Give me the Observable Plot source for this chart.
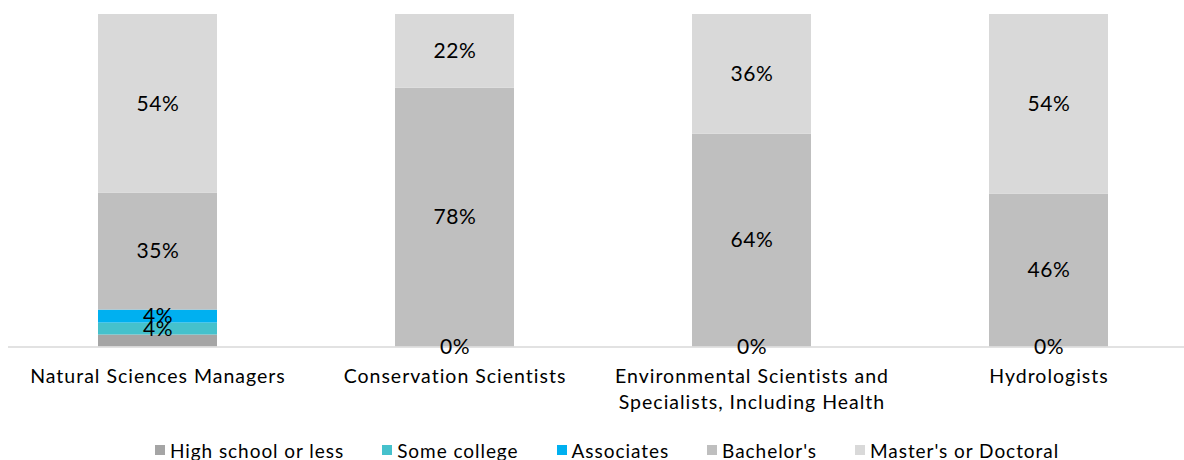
<!DOCTYPE html>
<html>
<head>
<meta charset="utf-8">
<script src="https://cdn.jsdelivr.net/npm/d3@7"></script>
<script src="https://cdn.jsdelivr.net/npm/@observablehq/plot@0.6"></script>
<style>
  html, body { margin: 0; padding: 0; background: #fff; }
  #chart { width: 1184px; font-family: "Lato", sans-serif; }
  #chart svg { display: block; }
  .legend { display: flex; justify-content: center; gap: 38px; padding-left: 30px; height: 28px; align-items: center; font-size: 19px; color: #000; font-family: "Lato", sans-serif; letter-spacing: 0.95px; margin-top: 4px; }
  .legend .item { display: flex; align-items: center; gap: 5px; }
  .legend .sw { width: 10px; height: 10px; display: inline-block; }
</style>
</head>
<body>
<div id="chart"></div>
<script>
const categories = [
  "Natural Sciences Managers",
  "Conservation Scientists",
  "Environmental Scientists and Specialists, Including Health",
  "Hydrologists"
];
const tickLabels = [
  "Natural Sciences Managers",
  "Conservation Scientists",
  "Environmental Scientists and\nSpecialists, Including Health",
  "Hydrologists"
];
const seriesNames = ["High school or less", "Some college", "Associates", "Bachelor's", "Master's or Doctoral"];
const seriesColors = ["#a5a5a5", "#45c1cc", "#00b0f0", "#bfbfbf", "#d9d9d9"];

const highSchool  = [3.6, 0, 0, 0];
const someCollege = [3.6, 0, 0, 0];
const associates  = [3.9, 0, 0, 0];
const bachelors   = [35.1, 77.8, 64.0, 46.0];
const masters     = [53.8, 22.2, 36.0, 54.0];

const seriesValues = [highSchool, someCollege, associates, bachelors, masters];

const data = [];
categories.forEach((c, i) => {
  seriesNames.forEach((s, j) => {
    data.push({category: c, series: s, value: seriesValues[j][i]});
  });
});

// Labels: non-zero segments are labelled; the high-school series is only labelled where it is 0%
function labelText(d) {
  if (d.series === seriesNames[0]) return d.value === 0 ? "0%" : "";
  return d.value > 0 ? Math.round(d.value) + "%" : "";
}

const chart = Plot.plot({
  width: 1184,
  height: 432,
  marginTop: 14,
  marginBottom: 85.5,
  marginLeft: 8,
  marginRight: 0,
  style: {fontFamily: "Lato, sans-serif", color: "#000", background: "#fff", overflow: "visible"},
  x: {domain: categories, range: [8.5, 1196.5], paddingInner: 0.6, paddingOuter: 0.3, label: null},
  y: {domain: [0, 100], axis: null},
  color: {domain: seriesNames, range: seriesColors},
  marks: [
    Plot.barY(data, {x: "category", y: "value", fill: "series", z: "series", order: seriesNames}),
    Plot.ruleY([0], {stroke: "#d9d9d9", strokeWidth: 1.3}),
    Plot.text(data, Plot.stackY({
      x: "category", y: "value", z: "series", order: seriesNames,
      text: labelText, fontSize: 21, fill: "#000", className: "seglabel"
    })),
    Plot.axisX({
      tickSize: 0, tickPadding: 17, fontSize: 19.5, lineHeight: 1.35, fill: "#000",
      tickFormat: d => tickLabels[categories.indexOf(d)], label: null, className: "catlabel"
    })
  ]
});
chart.querySelectorAll(".seglabel text").forEach(t => t.style.letterSpacing = "0.6px");
chart.querySelectorAll(".catlabel text").forEach(t => t.style.letterSpacing = "1px");
document.getElementById("chart").appendChild(chart);

const legend = document.createElement("div");
legend.className = "legend";
seriesNames.forEach((s, i) => {
  const item = document.createElement("span");
  item.className = "item";
  const sw = document.createElement("span");
  sw.className = "sw";
  sw.style.background = seriesColors[i];
  const label = document.createElement("span");
  label.textContent = s;
  item.appendChild(sw);
  item.appendChild(label);
  legend.appendChild(item);
});
document.getElementById("chart").appendChild(legend);
</script>
</body>
</html>
